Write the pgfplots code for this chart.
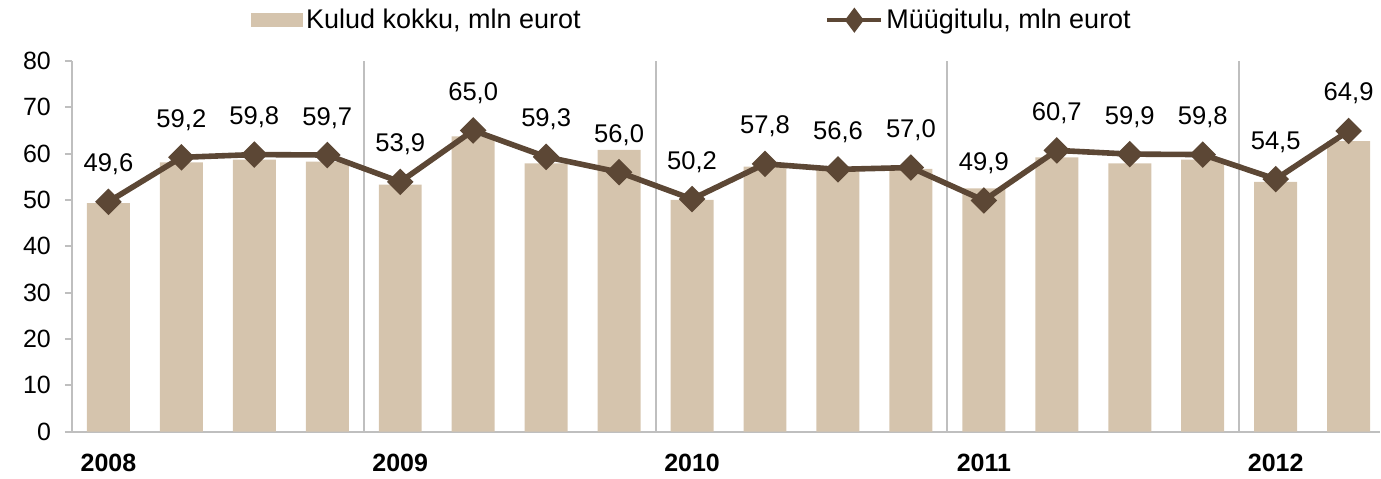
\documentclass[border=0pt]{standalone}
\usepackage{fontspec}
\setmainfont{Liberation Sans}
\usepackage{pgfplots}
\usepackage{pgfplotstable}
\pgfplotsset{compat=1.18}

\definecolor{barfill}{HTML}{D5C4AD}
\definecolor{linebrown}{HTML}{5C4735}
\definecolor{axgray}{HTML}{BFBFBF}

% quarter index, costs (bars), sales revenue (line)
\pgfplotstableread{
x  kulud  myyk
0  49.3   49.6
1  58.1   59.2
2  58.7   59.8
3  58.3   59.7
4  53.3   53.9
5  63.7   65.0
6  57.9   59.3
7  60.8   56.0
8  50.0   50.2
9  57.2   57.8
10 56.5   56.6
11 56.7   57.0
12 52.5   49.9
13 59.2   60.7
14 57.9   59.9
15 58.7   59.8
16 53.9   54.5
17 62.7   64.9
}\datatable

\begin{document}
\begin{tikzpicture}[font=\fontsize{12.5}{15}\selectfont]
\begin{axis}[
    scale only axis,
    width=654.5pt, height=185.5pt,
    xmin=-0.5, xmax=17.43,
    ymin=0, ymax=80,
    axis x line=bottom, axis y line=left,
    axis line style={-, draw=axgray, line width=1pt},
    ytick={0,10,...,80},
    ytick align=outside,
    y tick style={draw=axgray, line width=1pt},
    major tick length=3.5pt,
    xtick={0,4,8,12,16},
    xticklabels={2008,2009,2010,2011,2012},
    x tick style={draw=none},
    xticklabel style={font=\fontsize{12.5}{15}\selectfont\bfseries, yshift=-6pt},
    yticklabel style={xshift=-3.5pt},
    extra x ticks={3.5,7.5,11.5,15.5},
    extra x tick labels={},
    extra x tick style={grid=major, major grid style={draw=axgray, line width=1pt}},
    /pgf/number format/assume math mode=true,
    legend columns=2,
    legend style={draw=none, fill=none, at={(0.4744,1.11)}, anchor=center,
        font=\fontsize{13.5}{16}\selectfont,
        nodes={inner sep=1.5pt},
        /tikz/every even column/.append style={column sep=121pt}},
    clip=false,
]
\addplot[ybar, bar width=21.5pt, fill=barfill, draw=none,
    legend image code/.code={\fill[barfill] (0pt,-3.5pt) rectangle (26pt,3.5pt);}]
    table[x=x, y=kulud] {\datatable};
\addlegendentry{Kulud kokku, mln eurot}

\addplot[linebrown, line width=2.8pt, mark=square*,
    mark options={rotate=45, solid, fill=linebrown, line width=0.8pt},
    mark size=4.3pt,
    nodes near coords={\pgfmathprintnumber[fixed,fixed zerofill,precision=1,use comma]{\pgfplotspointmeta}},
    every node near coord/.append style={text=black, anchor=base, yshift=15pt,
        font=\fontsize{12.8}{15}\selectfont},
    legend image code/.code={
        \draw[linebrown, line width=2pt] (0pt,0pt) -- (27pt,0pt);
        \fill[linebrown] (13.5pt,4pt) -- (16.5pt,0pt) -- (13.5pt,-4pt) -- (10.5pt,0pt) -- cycle;}]
    table[x=x, y=myyk] {\datatable};
\addlegendentry{Müügitulu, mln eurot}
\end{axis}
\path (current axis.south west) ++(-36pt,-20pt) rectangle ++(690.5pt,236pt);
\end{tikzpicture}
\end{document}
